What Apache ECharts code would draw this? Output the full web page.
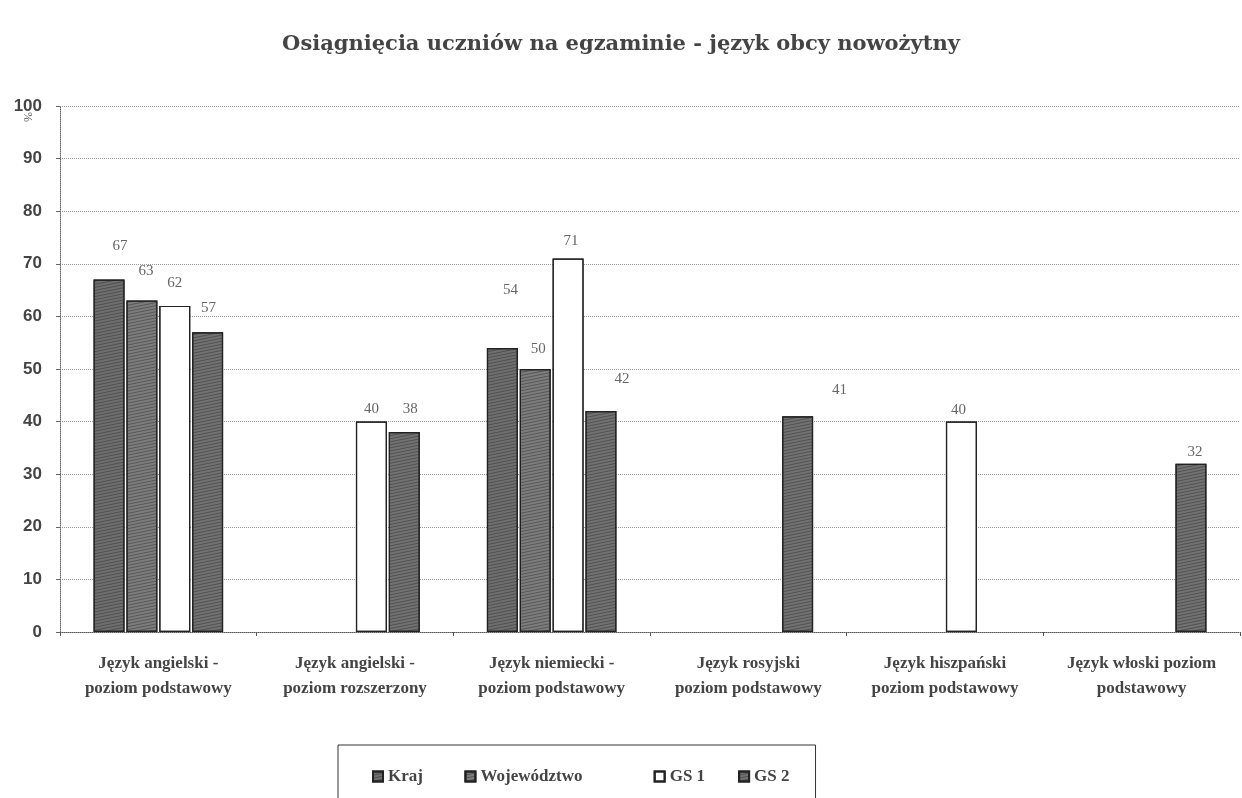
<!DOCTYPE html>
<html>
<head>
<meta charset="utf-8">
<script src="https://cdn.jsdelivr.net/npm/echarts@6/dist/echarts.min.js"></script>
<style>
  html, body { margin: 0; padding: 0; background: #fff; }
  #chart { width: 1242px; height: 798px; }
</style>
</head>
<body>
<div id="chart"></div>
<script>
const categories = [
  'Język angielski -\npoziom podstawowy',
  'Język angielski -\npoziom rozszerzony',
  'Język niemiecki -\npoziom podstawowy',
  'Język rosyjski\npoziom podstawowy',
  'Język hiszpański\npoziom podstawowy',
  'Język włoski poziom\npodstawowy'
]
const seriesNames = ['Kraj', 'Województwo', 'GS 1', 'GS 2']
const kraj = [67, '-', 54, '-', '-', '-']
const wojewodztwo = [63, '-', 50, '-', '-', '-']
const gs1 = [62, 40, 71, '-', 40, '-']
const gs2 = [57, 38, 42, 41, '-', 32]

// label placement as in the original (scanned) chart: [dx, distance] per category
const labelPlace = [
  [[11, 26], null, [8, 50], null, null, null],
  [[4, 22], null, [3, 12], null, null, null],
  [[0, 15], [0, 5], [3, 10], null, [-3, 4], null],
  [[1, 17], [6, 16], [21, 25], [42, 19], null, [4, 4]]
]
// extra trailing room after each legend name (the scan's legend is widely spaced)
const legendPad = [2, 9, 0, 0]

const serif = '"Liberation Serif", "DejaVu Serif", serif'
const colors = ['#6f6f6f', '#7d7d7d', '#ffffff', '#727272']

const chart = echarts.init(document.getElementById('chart'))

function makeSeries(name, values, i) {
  const data = values.map(function (v, j) {
    const p = labelPlace[i][j]
    if (v === '-' || !p) return v
    return { value: v, label: { offset: [p[0], 0], distance: p[1] } }
  })
  return {
    name: name,
    type: 'bar',
    data: data,
    barWidth: 31,
    barGap: '6%',
    barCategoryGap: '33%',
    itemStyle: {
      color: colors[i],
      borderColor: '#222',
      borderWidth: 1.2,
      decal: i === 2 ? {
        symbol: 'circle',
        symbolSize: 0.15,
        dashArrayX: [1, 0],
        dashArrayY: [2, 7],
        color: 'rgba(0,0,0,0.35)'
      } : {
        symbol: 'rect',
        symbolSize: 1,
        rotation: -0.2,
        dashArrayX: [1, 0],
        dashArrayY: [1, 2],
        color: 'rgba(40,40,40,0.45)'
      }
    },
    label: {
      show: true,
      position: 'top',
      color: '#666',
      fontFamily: serif,
      fontSize: 15
    }
  }
}

chart.setOption({
  animation: false,
  aria: { enabled: true, decal: { show: true } },
  title: {
    text: 'Osiągnięcia uczniów na egzaminie - język obcy nowożytny',
    left: 'center',
    top: 29,
    textStyle: {
      fontFamily: '"DejaVu Serif", serif',
      fontSize: 21,
      fontWeight: 'bold',
      color: '#444'
    }
  },
  graphic: [{
    type: 'text',
    left: 21,
    top: 112,
    rotation: -Math.PI / 2,
    style: { text: '%', fontFamily: serif, fontSize: 12, fill: '#555' }
  }],
  legend: {
    data: seriesNames,
    icon: 'rect',
    bottom: -15,
    left: 338,
    padding: [23, 26, 28, 34],
    borderColor: '#333',
    borderWidth: 1,
    itemWidth: 10,
    itemHeight: 10,
    itemGap: 33,
    formatter: function (name) {
      return name + '\u00a0'.repeat(legendPad[seriesNames.indexOf(name)])
    },
    textStyle: {
      fontFamily: serif,
      fontSize: 17,
      fontWeight: 'bold',
      color: '#444'
    }
  },
  grid: {
    left: 60,
    right: 2,
    top: 106,
    bottom: 166
  },
  xAxis: {
    type: 'category',
    data: categories,
    axisLine: { lineStyle: { color: '#555', type: 'dotted' } },
    axisTick: { show: true, length: 4, lineStyle: { color: '#555' } },
    axisLabel: {
      fontFamily: serif,
      fontSize: 17,
      fontWeight: 'bold',
      color: '#444',
      lineHeight: 25,
      margin: 19,
      interval: 0
    }
  },
  yAxis: {
    type: 'value',
    min: 0,
    max: 100,
    interval: 10,
    axisLine: { show: true, lineStyle: { color: '#666', type: 'dotted' } },
    axisTick: { show: true, length: 4, lineStyle: { color: '#666' } },
    axisLabel: {
      fontFamily: '"Liberation Sans", Arial, sans-serif',
      fontSize: 17,
      fontWeight: 'bold',
      color: '#444',
      margin: 18
    },
    splitLine: { lineStyle: { color: '#999', type: 'dotted', width: 1 } }
  },
  series: [
    makeSeries(seriesNames[0], kraj, 0),
    makeSeries(seriesNames[1], wojewodztwo, 1),
    makeSeries(seriesNames[2], gs1, 2),
    makeSeries(seriesNames[3], gs2, 3)
  ]
})
</script>
</body>
</html>
